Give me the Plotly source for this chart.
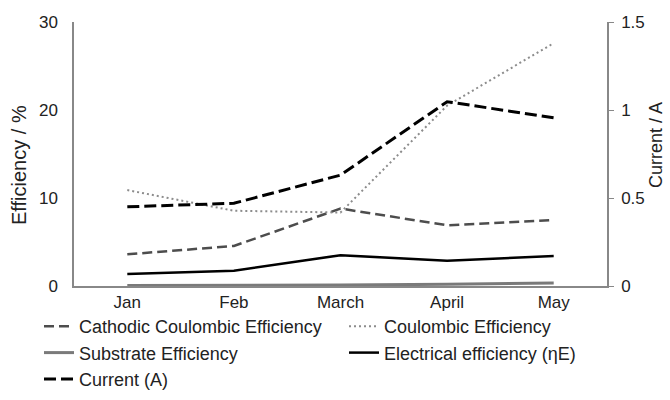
import plotly.graph_objects as go

months = ["Jan", "Feb", "March", "April", "May"]
cathodic_ce = [3.6, 4.55, 8.8, 6.9, 7.5]
coulombic_ce = [10.9, 8.55, 8.35, 20.5, 27.6]
substrate_eff = [0.05, 0.07, 0.1, 0.2, 0.35]
electrical_eff = [1.36, 1.74, 3.5, 2.88, 3.4]
current_a = [0.45, 0.47, 0.63, 1.047, 0.956]

fig = go.Figure()
fig.add_trace(go.Scatter(x=months, y=cathodic_ce, name="Cathodic Coulombic Efficiency",
                         mode="lines", line=dict(color="#4d4d4d", width=2.5, dash="10px,5px")))
fig.add_trace(go.Scatter(x=months, y=coulombic_ce, name="Coulombic Efficiency",
                         mode="lines", line=dict(color="#8c8c8c", width=2, dash="2px,3px")))
fig.add_trace(go.Scatter(x=months, y=substrate_eff, name="Substrate Efficiency",
                         mode="lines", line=dict(color="#7a7a7a", width=3)))
fig.add_trace(go.Scatter(x=months, y=electrical_eff, name="Electrical efficiency (ηE)",
                         mode="lines", line=dict(color="#000000", width=2.5)))
fig.add_trace(go.Scatter(x=months, y=current_a, name="Current (A)", yaxis="y2",
                         mode="lines", line=dict(color="#000000", width=3, dash="12px,5px")))

font = "Liberation Sans, Arial, sans-serif"
fig.update_layout(
    width=670, height=400,
    margin=dict(l=74, r=63, t=22, b=114, autoexpand=False),
    paper_bgcolor="white", plot_bgcolor="white",
    font=dict(family=font, size=17, color="#222"),
    showlegend=True,
    xaxis=dict(range=[-0.5, 4.5], showline=True, linecolor="#888", linewidth=1.5,
               showgrid=False, ticks="", tickfont=dict(size=17), zeroline=False,
               ticklabelstandoff=0),
    yaxis=dict(range=[0, 30], dtick=10, showline=True, linecolor="#888", linewidth=1.5,
               showgrid=False, zeroline=False, ticks="", ticklabelstandoff=11,
               tickfont=dict(size=17)),
    yaxis2=dict(range=[0, 1.5], dtick=0.5, overlaying="y", side="right", showline=True,
                linecolor="#888", linewidth=1.5, showgrid=False, zeroline=False,
                ticks="outside", ticklen=5, tickcolor="#888", tickfont=dict(size=17),
                ticklabelstandoff=4),
    legend=dict(orientation="h", xref="paper", yref="paper",
                x=(39 - 74) / 533, xanchor="left", y=(286 - 308) / 264, yanchor="top",
                entrywidth=260, entrywidthmode="pixels",
                font=dict(size=18), itemwidth=30, tracegroupgap=0,
                bgcolor="rgba(0,0,0,0)"),
    annotations=[
        dict(text="Efficiency / %", xref="paper", yref="paper",
             x=(19 - 74) / 533, y=(286 - 165) / 264, textangle=-90,
             showarrow=False, font=dict(size=20), xanchor="center", yanchor="middle"),
        dict(text="Current / A", xref="paper", yref="paper",
             x=(656 - 74) / 533, y=(286 - 145) / 264, textangle=-90,
             showarrow=False, font=dict(size=18), xanchor="center", yanchor="middle"),
    ],
)

fig.write_html("out.html", config={"displayModeBar": False},
               post_script="document.body.style.margin='0';")
